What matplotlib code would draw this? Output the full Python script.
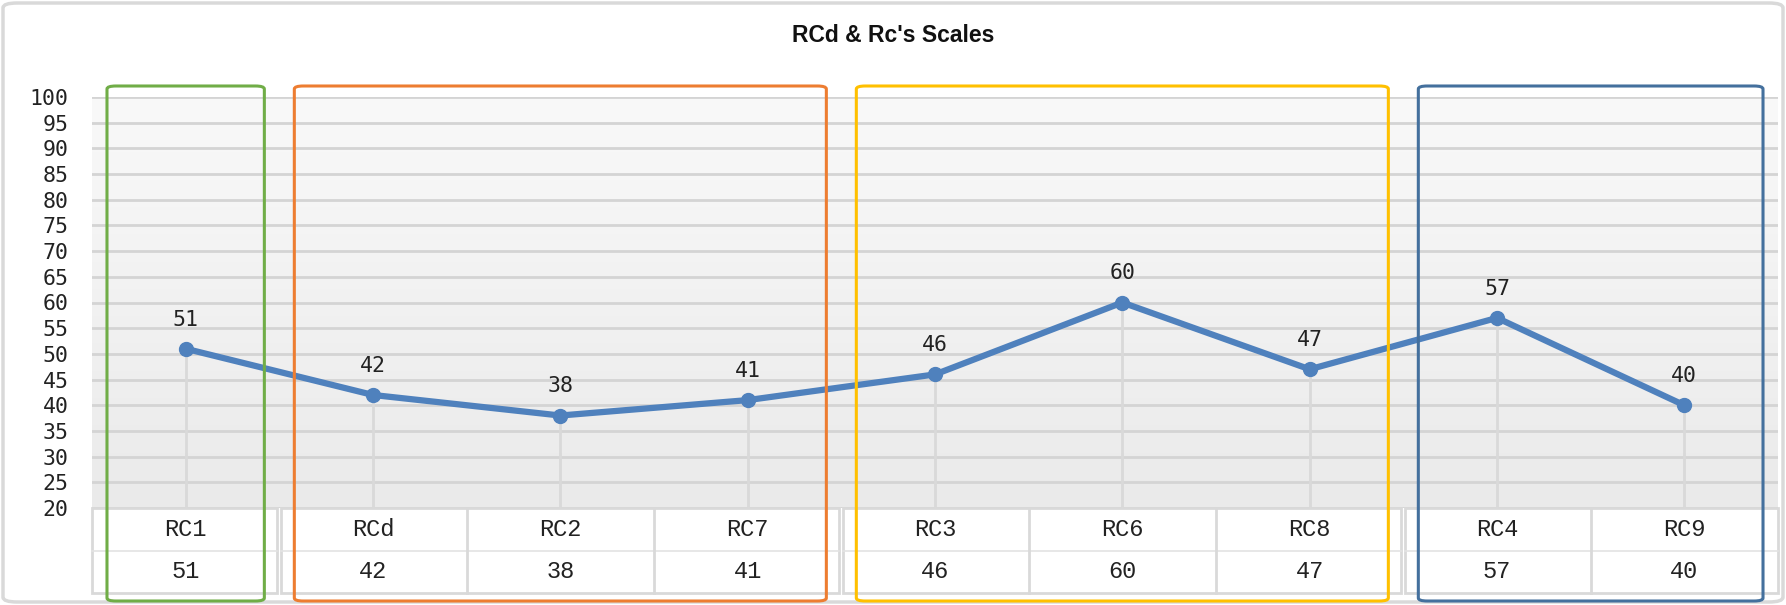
import matplotlib
matplotlib.use("Agg")
import matplotlib.pyplot as plt
import numpy as np
from matplotlib.patches import FancyBboxPatch, Rectangle

# ---- data ----
categories = ["RC1", "RCd", "RC2", "RC7", "RC3", "RC6", "RC8", "RC4", "RC9"]
values = [51, 42, 38, 41, 46, 60, 47, 57, 40]
y_ticks = list(range(20, 101, 5))
groups = [(0, 0), (1, 3), (4, 6), (7, 8)]  # index ranges (inclusive)
group_colors = ["#70ad47", "#ed7d31", "#ffc000", "#44709d"]
title = "RCd & Rc's Scales"

W, H = 1786, 605
fig = plt.figure(figsize=(W / 100, H / 100), dpi=100)
fig.patch.set_facecolor("white")

def fx(px):
    return px / W

def fy(py):
    return 1 - py / H

# outer figure border
fig.patches.append(FancyBboxPatch((fx(3), fy(602)), fx(1780), 599 / H,
                                  boxstyle="round,pad=0,rounding_size=0.008",
                                  transform=fig.transFigure, fill=False,
                                  edgecolor="#d9d9d9", linewidth=2.5, zorder=0))

ax_l, ax_r, ax_t, ax_b = 92, 1778, 97, 508
ax = fig.add_axes([fx(ax_l), fy(ax_b), fx(ax_r - ax_l), (ax_b - ax_t) / H])
n = len(categories)
x = np.arange(n)
ax.set_xlim(-0.5, n - 0.5)
ax.set_ylim(20, 100)

# gradient background
grad = np.linspace(0, 1, 256).reshape(-1, 1)
top = np.array([0xf9, 0xf9, 0xf9]) / 255
bot = np.array([0xea, 0xea, 0xea]) / 255
img = top[None, None, :] * (1 - grad[:, :, None]) + bot[None, None, :] * grad[:, :, None]
ax.imshow(img, extent=[-0.5, n - 0.5, 20, 100], aspect="auto", origin="upper", zorder=0)

for yv in y_ticks:
    ax.axhline(yv, color="#d4d4d4", lw=2.0, zorder=1)
ax.vlines(x, 20, values, color="#d9d9d9", lw=2.0, zorder=1)

ax.plot(x, values, color="#4f81bd", lw=4.5, marker="o", markersize=10,
        solid_capstyle="round", zorder=3, clip_on=False)
for xi, v in zip(x, values):
    ax.annotate(str(v), (xi, v), xytext=(0, 21), textcoords="offset points",
                ha="center", va="center", fontsize=15.5, family="DejaVu Sans Mono",
                color="#222222", zorder=4)

for s in ax.spines.values():
    s.set_visible(False)
ax.set_xticks([])
ax.set_yticks(y_ticks)
ax.set_yticklabels([str(t) for t in y_ticks], family="DejaVu Sans Mono", fontsize=15.5,
                   color="#222222")
ax.tick_params(axis="y", length=0, pad=17)

# table
tb_t, tb_b = 508, 593
tax = fig.add_axes([fx(ax_l), fy(tb_b), fx(ax_r - ax_l), (tb_b - tb_t) / H])
tax.set_xlim(-0.5, n - 0.5)
tax.set_ylim(0, 2)
tax.axis("off")
gap = 2.0 / 187.3
for (a, b) in groups:
    x0 = a - 0.5 + (gap if a > 0 else 0)
    x1 = b + 0.5 - (gap if b < n - 1 else 0)
    tax.add_patch(Rectangle((x0, 0), x1 - x0, 2, facecolor="white",
                            edgecolor="#d9d9d9", lw=2.0, clip_on=False))
    tax.plot([x0, x1], [1, 1], color="#e3e3e3", lw=1.2, clip_on=False)
    for k in range(a, b):
        tax.plot([k + 0.5, k + 0.5], [0, 2], color="#d9d9d9", lw=2.0, clip_on=False)
for xi, c, v in zip(x, categories, values):
    tax.text(xi, 1.5, c, ha="center", va="center", family="Liberation Mono",
             fontsize=17, color="#222222")
    tax.text(xi, 0.5, str(v), ha="center", va="center", family="Liberation Mono",
             fontsize=17, color="#222222")

# group boxes
fig.canvas.draw()
box_top, box_bot = 86, 601
half = 0.42
for (a, b), col in zip(groups, group_colors):
    xl = ax.transData.transform((a - half, 50))[0] / W
    xr = ax.transData.transform((b + half, 50))[0] / W
    fig.patches.append(FancyBboxPatch((xl, fy(box_bot)), xr - xl, (box_bot - box_top) / H,
                                      boxstyle="round,pad=0,rounding_size=0.005",
                                      transform=fig.transFigure, fill=False,
                                      edgecolor=col, linewidth=2.2, zorder=10))

fig.text(0.5, fy(36), title, ha="center", va="center", fontsize=16.5,
         fontweight="bold", family="Liberation Sans", color="#111111")

fig.savefig("out.png", dpi=100)
